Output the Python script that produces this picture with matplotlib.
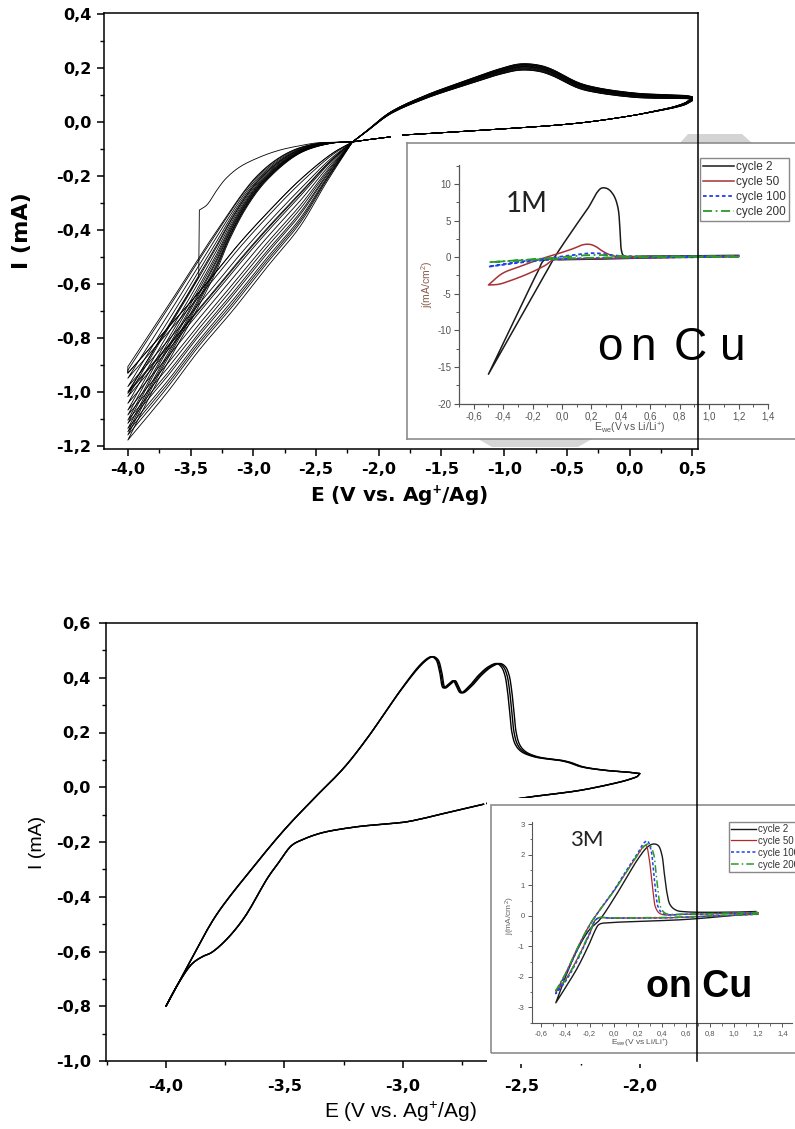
import numpy as np
import matplotlib
matplotlib.use("Agg")
import matplotlib.pyplot as plt
from matplotlib.patches import Rectangle, Polygon
from matplotlib.lines import Line2D
from matplotlib.ticker import MultipleLocator

plt.rcParams['font.family'] = ['Liberation Sans', 'DejaVu Sans']
plt.rcParams['mathtext.fontset'] = 'custom'
plt.rcParams['mathtext.rm'] = 'Liberation Sans'
plt.rcParams['mathtext.bf'] = 'Liberation Sans:bold'
plt.rcParams['mathtext.it'] = 'Liberation Sans:italic'

# ======================= DATA =======================
# ---- upper panel: 1 M electrolyte, ~15 CV cycles (I in mA, E in V vs Ag+/Ag)
top_lower_E = [0.50, 0.45, 0.36, 0.20, 0.045, -0.41, -1.17, -1.81]
top_lower_I = [0.085, 0.070, 0.056, 0.040, 0.026, -0.004, -0.030, -0.048]
top_lower_spread = [0.5, 0.35, 0.2, 0.1, 0.0, 0.0, 0.0, 0.0]
top_start_E = [-1.91, -2.05, -2.21]
top_start_I = [-0.055, -0.063, -0.074]
cath_upper_E = [-2.21, -2.50, -2.73, -2.97, -3.27, -3.59, -4.00]
cath_upper_I = [-0.074, -0.080, -0.115, -0.200, -0.390, -0.620, -0.910]
cath_lower_E = [-2.21, -2.37, -2.63, -2.89, -3.05, -3.19, -3.29, -3.50, -3.75, -4.00]
cath_lower_I = [-0.074, -0.078, -0.116, -0.215, -0.314, -0.437, -0.548, -0.740, -0.950, -1.180]
anod_upper_E = [-4.00, -3.60, -3.35, -3.11, -2.89, -2.63, -2.37, -2.21]
anod_upper_I = [-0.930, -0.720, -0.585, -0.449, -0.337, -0.215, -0.116, -0.074]
anod_lower_E = [-4.00, -3.69, -3.43, -3.16, -2.89, -2.63, -2.42, -2.21]
anod_lower_I = [-1.178, -1.004, -0.844, -0.696, -0.537, -0.389, -0.226, -0.074]
ox_E = [-2.21, -2.10, -1.91, -1.63, -1.32, -1.02, -0.87, -0.72, -0.62, -0.41, -0.26, 0.045, 0.30, 0.45, 0.50]
ox_I = [-0.074, -0.035, 0.033, 0.093, 0.144, 0.190, 0.205, 0.200, 0.185, 0.137, 0.119, 0.100, 0.095, 0.093, 0.090]
ox_spread = [0.0, 0.1, 0.3, 0.5, 0.7, 0.9, 1.0, 1.0, 1.0, 0.9, 0.8, 0.7, 0.6, 0.5, 0.4]
cycle_end_I = [-0.906, -0.919, -0.949, -0.980, -1.005, -1.017, -1.042, -1.067,
               -1.085, -1.104, -1.116, -1.135, -1.147, -1.159, -1.178]
cycle_ox_shift = [0.010, -0.012, 0.006, -0.004, 0.008, -0.008, 0.002, -0.013,
                  0.004, -0.002, 0.011, -0.006, 0.000, -0.010, 0.007]
first_pre_E = [-1.91, -2.05, -2.21, -2.47, -2.60, -2.79, -2.95, -3.11, -3.22, -3.29, -3.37, -3.43]
first_pre_I = [-0.055, -0.063, -0.074, -0.076, -0.085, -0.104, -0.130, -0.167, -0.210, -0.252, -0.307, -0.326]
first_post_E = [-3.435, -3.60, -3.80, -4.00]
first_post_I = [-0.574, -0.700, -0.850, -1.000]
top_xticks = [-4.0, -3.5, -3.0, -2.5, -2.0, -1.5, -1.0, -0.5, 0.0, 0.5]
top_yticks = [-1.2, -1.0, -0.8, -0.6, -0.4, -0.2, 0.0, 0.2, 0.4]

# ---- lower panel: 3 M electrolyte, 3 CV cycles
bot_cath_E = [-2.66, -2.80, -2.91, -2.99, -3.10, -3.20, -3.34, -3.42, -3.47, -3.52, -3.57,
              -3.67, -3.75, -3.81, -3.84, -3.89, -3.95, -4.00]
bot_cath_I = [-0.062, -0.090, -0.113, -0.127, -0.136, -0.145, -0.166, -0.190, -0.213, -0.270, -0.330,
              -0.477, -0.561, -0.605, -0.616, -0.645, -0.720, -0.800]
bot_anod_E = [-4.00, -3.90, -3.79, -3.63, -3.50, -3.38, -3.25, -3.15, -3.01, -2.93, -2.895, -2.879,
              -2.86, -2.845, -2.83, -2.81, -2.788, -2.775, -2.757, -2.72, -2.68, -2.64, -2.605,
              -2.585, -2.57, -2.56, -2.55, -2.54, -2.525, -2.50, -2.45, -2.38, -2.34, -2.30,
              -2.25, -2.15, -2.05, -2.00]
bot_anod_I = [-0.800, -0.640, -0.470, -0.290, -0.155, -0.045, 0.070, 0.180, 0.355, 0.445, 0.472, 0.477,
              0.465, 0.420, 0.363, 0.375, 0.389, 0.370, 0.345, 0.370, 0.410, 0.440, 0.452,
              0.440, 0.410, 0.360, 0.280, 0.200, 0.155, 0.130, 0.112, 0.102, 0.098, 0.090,
              0.075, 0.062, 0.055, 0.050]
bot_anod_w = [0, 0, 0, 0, 0, 0, 0, 0, 0.1, 0.3, 0.4, 0.5,
              0.5, 0.5, 0.5, 0.5, 0.5, 0.5, 0.5, 0.6, 0.7, 0.8, 0.9,
              1, 1, 1, 1, 1, 1, 1, 0.9, 0.8, 0.7, 0.6,
              0.5, 0.3, 0.1, 0]
bot_rev_E = [-2.00, -2.01, -2.04, -2.08, -2.25, -2.46, -2.645]
bot_rev_I = [0.050, 0.040, 0.030, 0.020, -0.011, -0.035, -0.059]
bot_cycle_shift = [0.0, 0.009, 0.018]
bot_xticks = [-4.0, -3.5, -3.0, -2.5, -2.0]
bot_yticks = [-1.0, -0.8, -0.6, -0.4, -0.2, 0.0, 0.2, 0.4, 0.6]

# ---- inset 1 (1M, j in mA/cm2 vs E in V vs Li/Li+)
in_labels = ['cycle 2', 'cycle 50', 'cycle 100', 'cycle 200']
in1_c2_E = [1.20, 0.80, 0.40, 0.00, -0.12, -0.16, -0.30, -0.50, -0.30, -0.10, -0.05, 0.10, 0.18,
            0.24, 0.27, 0.31, 0.35, 0.38, 0.395, 0.405, 0.42, 0.60, 1.20]
in1_c2_j = [0.15, 0.00, -0.20, -0.35, -0.40, -1.80, -7.60, -16.0, -8.9, -1.8, 0.0, 4.5, 6.8,
            8.9, 9.45, 9.35, 8.5, 6.8, 3.5, 0.8, 0.2, 0.15, 0.25]
in1_c50_E = [1.20, 0.50, 0.00, -0.063, -0.11, -0.223, -0.35, -0.43, -0.50, -0.406, -0.29, -0.13,
             -0.017, 0.08, 0.143, 0.19, 0.23, 0.28, 0.35, 0.45, 1.20]
in1_c50_j = [0.05, -0.10, -0.30, -0.40, -1.07, -2.20, -3.20, -3.70, -3.80, -2.23, -1.30, -0.15,
             0.54, 1.20, 1.70, 1.75, 1.45, 0.77, 0.17, 0.10, 0.15]
in1_c100_E = [1.20, 0.30, 0.00, -0.20, -0.35, -0.50, -0.30, -0.10, 0.00, 0.10, 0.20, 0.26, 0.35, 0.45, 1.20]
in1_c100_j = [0.05, -0.10, -0.25, -0.55, -0.90, -1.30, -0.65, -0.20, 0.10, 0.35, 0.55, 0.50, 0.25, 0.12, 0.15]
in1_c200_E = [1.20, 0.30, 0.00, -0.25, -0.50, -0.25, 0.00, 0.15, 0.25, 0.35, 0.50, 1.20]
in1_c200_j = [0.05, -0.05, -0.20, -0.40, -0.70, -0.35, 0.00, 0.25, 0.30, 0.20, 0.12, 0.15]

# ---- inset 2 (3M)
in2_c2_E = [1.18, 0.60, 0.00, -0.12, -0.15, -0.20, -0.30, -0.40, -0.48, -0.40, -0.30, -0.20, -0.12,
            0.00, 0.10, 0.20, 0.28, 0.33, 0.37, 0.40, 0.42, 0.44, 0.47, 0.52, 0.60, 1.00, 1.18]
in2_c2_j = [0.08, -0.12, -0.22, -0.28, -0.45, -0.90, -1.70, -2.35, -2.85, -2.00, -1.10, -0.45, -0.15,
            0.55, 1.20, 1.85, 2.25, 2.35, 2.30, 2.00, 1.40, 0.80, 0.35, 0.18, 0.13, 0.12, 0.14]
in2_c50_E = [1.20, 0.50, 0.00, -0.14, -0.20, -0.30, -0.40, -0.48, -0.40, -0.30, -0.20, -0.14,
             0.00, 0.10, 0.20, 0.25, 0.27, 0.29, 0.31, 0.33, 0.35, 0.39, 0.60, 1.20]
in2_c50_j = [0.05, -0.06, -0.08, -0.10, -0.60, -1.40, -2.10, -2.50, -1.90, -1.05, -0.30, 0.05,
             0.80, 1.40, 2.00, 2.28, 2.30, 2.00, 1.40, 0.70, 0.25, 0.06, 0.05, 0.10]
in2_c100_E = [1.20, 0.50, 0.00, -0.14, -0.20, -0.30, -0.40, -0.48, -0.40, -0.30, -0.20, -0.14,
              0.00, 0.10, 0.20, 0.25, 0.28, 0.31, 0.33, 0.35, 0.37, 0.41, 0.60, 1.20]
in2_c100_j = [0.05, -0.06, -0.08, -0.10, -0.60, -1.45, -2.15, -2.55, -1.95, -1.10, -0.32, 0.05,
              0.82, 1.45, 2.05, 2.38, 2.45, 2.15, 1.50, 0.75, 0.28, 0.07, 0.05, 0.10]
in2_c200_E = [1.20, 0.50, 0.00, -0.14, -0.20, -0.30, -0.40, -0.48, -0.40, -0.30, -0.20, -0.14,
              0.00, 0.10, 0.20, 0.26, 0.29, 0.33, 0.35, 0.37, 0.39, 0.43, 0.60, 1.20]
in2_c200_j = [0.06, -0.05, -0.07, -0.09, -0.55, -1.40, -2.10, -2.45, -1.90, -1.05, -0.30, 0.06,
              0.80, 1.40, 2.00, 2.30, 2.35, 2.05, 1.45, 0.75, 0.28, 0.08, 0.06, 0.11]
in_xticks = [-0.6, -0.4, -0.2, 0.0, 0.2, 0.4, 0.6, 0.8, 1.0, 1.2, 1.4]
in1_yticks = [-20, -15, -10, -5, 0, 5, 10]
in2_yticks = [-3, -2, -1, 0, 1, 2, 3]


# ======================= helpers =======================
def cr(x, y, sx=1.0, sy=1.0, n=10):
    """Centripetal Catmull-Rom curve through the given points (drawing only)."""
    P = np.column_stack([np.asarray(x, float) * sx, np.asarray(y, float) * sy])
    if len(P) < 3:
        return P[:, 0] / sx, P[:, 1] / sy
    P = np.vstack([2 * P[0] - P[1], P, 2 * P[-1] - P[-2]])
    out = []
    for i in range(1, len(P) - 2):
        p0, p1, p2, p3 = P[i - 1], P[i], P[i + 1], P[i + 2]
        t0 = 0.0
        t1 = t0 + max(np.linalg.norm(p1 - p0), 1e-6) ** 0.5
        t2 = t1 + max(np.linalg.norm(p2 - p1), 1e-6) ** 0.5
        t3 = t2 + max(np.linalg.norm(p3 - p2), 1e-6) ** 0.5
        t = np.linspace(t1, t2, n, endpoint=False)[:, None]
        A1 = (t1 - t) / (t1 - t0) * p0 + (t - t0) / (t1 - t0) * p1
        A2 = (t2 - t) / (t2 - t1) * p1 + (t - t1) / (t2 - t1) * p2
        A3 = (t3 - t) / (t3 - t2) * p2 + (t - t2) / (t3 - t2) * p3
        B1 = (t2 - t) / (t2 - t0) * A1 + (t - t0) / (t2 - t0) * A2
        B2 = (t3 - t) / (t3 - t1) * A2 + (t - t1) / (t3 - t1) * A3
        out.append((t2 - t) / (t2 - t1) * B1 + (t - t1) / (t2 - t1) * B2)
    out.append(P[-2:-1])
    R = np.vstack(out)
    return R[:, 0] / sx, R[:, 1] / sy


def cr_loop(x, y, sx, sy):
    """Smooth a CV loop, keeping the sharp vertex at the most negative potential."""
    x = list(x); y = list(y)
    k = int(np.argmin(x))
    a = cr(x[:k + 1], y[:k + 1], sx, sy)
    b = cr(x[k:], y[k:], sx, sy)
    return np.concatenate([a[0], b[0]]), np.concatenate([a[1], b[1]])


def comma(v, nd=1):
    s = f"{v:.{nd}f}".replace('.', ',')
    if s.startswith('-') and float(v) == 0:
        s = s[1:]
    return s


W, H = 795, 1129
fig = plt.figure(figsize=(W / 100, H / 100), dpi=100)


def rect(l, t, r, b):
    return [l / W, 1 - b / H, (r - l) / W, (b - t) / H]


def fxy(px, py):
    return (px / W, 1 - py / H)


# ---------------- upper main axes ----------------
SX1, SY1 = 125.6, 270.0
ax1 = fig.add_axes(rect(104, 13, 698, 449), zorder=0)
ax1.set_xlim(-4.19, 0.545)
ax1.set_ylim(-1.211, 0.404)

grid_c = np.linspace(-2.21, -4.0, 160)
grid_a = grid_c[::-1]


def env(E, I):
    xe, ye = cr(E, I, SX1, SY1)
    o = np.argsort(xe)
    return np.interp(grid_c, xe[o], ye[o])


cu, cl = env(cath_upper_E, cath_upper_I), env(cath_lower_E, cath_lower_I)
au, al = env(anod_upper_E, anod_upper_I)[::-1], env(anod_lower_E, anod_lower_I)[::-1]
sE, sI = cr(top_start_E, top_start_I, SX1, SY1)

for e_end, sh in zip(cycle_end_I, cycle_ox_shift):
    t = (e_end - cath_upper_I[-1]) / (cath_lower_I[-1] - cath_upper_I[-1])
    u = np.clip((e_end - anod_upper_I[0]) / (anod_lower_I[0] - anod_upper_I[0]), 0, 1)
    Ic = (1 - t) * cu + t * cl
    Ia = (1 - u) * au + u * al
    oE, oI = cr(ox_E, np.array(ox_I) + sh * np.array(ox_spread), SX1, SY1)
    lE, lI = cr(top_lower_E, np.array(top_lower_I) + sh * np.array(top_lower_spread), SX1, SY1)
    E = np.concatenate([sE, grid_c[1:], grid_a, oE[1:], lE])
    I = np.concatenate([sI, Ic[1:], Ia, oI[1:], lI])
    ax1.plot(E, I, color='black', lw=0.6)

# first (nucleation) cycle
u1 = (first_post_I[-1] - anod_upper_I[0]) / (anod_lower_I[0] - anod_upper_I[0])
Ia1 = (1 - u1) * au + u1 * al
pE, pI = cr(first_pre_E, first_pre_I, SX1, SY1)
qE, qI = cr(first_post_E, first_post_I, SX1, SY1)
oE, oI = cr(ox_E, ox_I, SX1, SY1)
lE, lI = cr(top_lower_E, top_lower_I, SX1, SY1)
ax1.plot(np.concatenate([pE, qE, grid_a, oE[1:], lE]),
         np.concatenate([pI, qI, Ia1, oI[1:], lI]), color='black', lw=0.6)

ax1.set_xticks(top_xticks, [comma(v) for v in top_xticks],
               fontfamily='DejaVu Sans', fontweight='bold', fontsize=11.5)
ax1.set_yticks(top_yticks, [comma(v) for v in top_yticks],
               fontfamily='DejaVu Sans', fontweight='bold', fontsize=11.5)
ax1.xaxis.set_minor_locator(MultipleLocator(0.25))
ax1.yaxis.set_minor_locator(MultipleLocator(0.1))
ax1.tick_params(which='major', direction='out', length=5, width=1.1, pad=4)
ax1.tick_params(which='minor', direction='out', length=3, width=1.0)
for s in ax1.spines.values():
    s.set_linewidth(1.1)
ax1.spines['right'].set_visible(False)

fig.text(*fxy(22, 231), 'I (mA)', rotation=90, ha='center', va='center',
         fontfamily='DejaVu Sans', fontweight='bold', fontsize=16)
fig.text(*fxy(399, 496), r'E (V vs. Ag$^{\mathbf{+}}$/Ag)', ha='center', va='center',
         fontfamily='DejaVu Sans', fontweight='bold', fontsize=14.5)

# ---------------- lower main axes ----------------
SX2, SY2 = 237.0, 273.0
ax2 = fig.add_axes(rect(106, 623, 697, 1061), zorder=0)
ax2.set_xlim(-4.253, -1.759)
ax2.set_ylim(-1.0, 0.6)
bw = np.array(bot_anod_w)
cE, cI = cr(bot_cath_E, bot_cath_I, SX2, SY2)
rE, rI = cr(bot_rev_E, bot_rev_I, SX2, SY2)
for sh in bot_cycle_shift:
    aE, aI = cr(np.array(bot_anod_E) + sh * bw, bot_anod_I, SX2, SY2)
    ax2.plot(np.concatenate([cE, aE, rE]), np.concatenate([cI, aI, rI]), color='black', lw=1.0)

ax2.set_xticks(bot_xticks, [comma(v) for v in bot_xticks],
               fontfamily='DejaVu Sans', fontweight='bold', fontsize=11.5)
ax2.set_yticks(bot_yticks, [comma(v) for v in bot_yticks],
               fontfamily='DejaVu Sans', fontweight='bold', fontsize=11.5)
ax2.xaxis.set_minor_locator(MultipleLocator(0.25))
ax2.yaxis.set_minor_locator(MultipleLocator(0.1))
ax2.tick_params(which='major', direction='out', length=5, width=1.1)
ax2.tick_params(axis='y', which='major', pad=6)
ax2.tick_params(axis='x', which='major', pad=8)
ax2.tick_params(which='minor', direction='out', length=3, width=1.0)
for s in ax2.spines.values():
    s.set_linewidth(1.1)
ax2.spines['right'].set_visible(False)

fig.text(*fxy(37, 842), 'I (mA)', rotation=90, ha='center', va='center', fontsize=14)
fig.text(*fxy(400, 1112), r'E (V vs. Ag$^{\mathrm{+}}$/Ag)', ha='center', va='center', fontsize=15)

# ---------------- inset 1 ----------------
SX3, SY3 = 147.0, 7.3
box1 = fig.add_axes(rect(407, 143, 810, 439), zorder=1)
box1.set_xticks([]); box1.set_yticks([])
for s in box1.spines.values():
    s.set_color('#8c8c8c'); s.set_linewidth(1.2)

in1 = fig.add_axes(rect(459, 165, 768, 403.5), zorder=2)
in1.patch.set_alpha(0)
in1.set_xlim(-0.7, 1.4)
in1.set_ylim(-20, 12.6)
in1.plot(*cr_loop(in1_c2_E, in1_c2_j, SX3, SY3), color='#1a1a1a', lw=1.1, label=in_labels[0])
in1.plot(*cr_loop(in1_c50_E, in1_c50_j, SX3, SY3), color='#a83232', lw=1.1, label=in_labels[1])
in1.plot(*cr_loop(in1_c100_E, in1_c100_j, SX3, SY3), color='#2040ee', lw=1.3, ls=(0, (2, 1.5)),
         label=in_labels[2])
in1.plot(*cr_loop(in1_c200_E, in1_c200_j, SX3, SY3), color='#2a9a2a', lw=1.3, ls=(0, (5, 2, 1, 2)),
         label=in_labels[3])
in1.set_xticks(in_xticks, [comma(v) for v in in_xticks], fontsize=7, color='#555555')
in1.set_yticks(in1_yticks, [str(v) for v in in1_yticks], fontsize=7, color='#555555')
in1.xaxis.set_minor_locator(MultipleLocator(0.1))
in1.yaxis.set_minor_locator(MultipleLocator(2.5))
in1.tick_params(which='major', direction='out', length=3.5, width=0.8, color='#555555', pad=2)
in1.tick_params(which='minor', direction='out', length=2, width=0.7, color='#555555')
for side in ['top', 'right']:
    in1.spines[side].set_visible(False)
for side in ['left', 'bottom']:
    in1.spines[side].set_color('#555555'); in1.spines[side].set_linewidth(0.9)
in1.text(*fxy(427, 284), r'j(mA/cm$^{\mathrm{2}}$)', transform=fig.transFigure, rotation=90,
         ha='center', va='center', fontsize=7.5, color='#8a5a4a')
in1.text(*fxy(630, 428), r'E$_{\mathrm{we}}$(V vs Li/Li$^{\mathrm{+}}$)', transform=fig.transFigure,
         ha='center', va='center', fontsize=7.5, color='#555555')
in1.text(*fxy(527, 204), '1M', transform=fig.transFigure, ha='center', va='center',
         fontsize=20, fontfamily='Lato', color='#222222')
for ch, cx in zip(['o', 'n', 'C', 'u'], [610, 643, 690, 733]):
    in1.text(*fxy(cx, 360), ch, transform=fig.transFigure, ha='center', va='baseline',
             fontsize=33, color='black')
in1.legend(loc='upper left', bbox_to_anchor=fxy(700, 158), bbox_transform=fig.transFigure,
           fontsize=8.5, frameon=True, fancybox=False, edgecolor='#888888', framealpha=1,
           handlelength=2.6, handletextpad=0.2, labelspacing=0.25, borderpad=0.25,
           borderaxespad=0, labelcolor='#333333')

# gray shadows of the pasted picture
fig.add_artist(Polygon([fxy(680, 143), fxy(688, 134), fxy(742, 134), fxy(752, 143)],
                       closed=True, facecolor='#d4d4d4', edgecolor='none', zorder=0.5))
fig.add_artist(Polygon([fxy(478, 439), fxy(592, 439), fxy(578, 447), fxy(492, 447)],
                       closed=True, facecolor='#d6d6d6', edgecolor='none', zorder=0.5))

# ---------------- inset 2 ----------------
SX4, SY4 = 120.5, 30.5
box2 = fig.add_axes(rect(487, 798, 810, 1063.5), zorder=1)
box2.set_axis_off()
box2.add_patch(Rectangle((0, 0), 1, 1, transform=box2.transAxes, facecolor='white', edgecolor='none'))
fig.add_artist(Rectangle(fxy(491, 1053), (810 - 491) / W, (1053 - 805) / H, facecolor='none',
                         edgecolor='#8c8c8c', lw=1.2, zorder=1.5))

in2 = fig.add_axes(rect(531.7, 821.7, 792, 1023.3), zorder=2)
in2.patch.set_alpha(0)
in2.set_xlim(-0.68, 1.48)
in2.set_ylim(-3.52, 3.08)
in2.plot(*cr_loop(in2_c2_E, in2_c2_j, SX4, SY4), color='#1a1a1a', lw=1.0, label=in_labels[0])
in2.plot(*cr_loop(in2_c50_E, in2_c50_j, SX4, SY4), color='#b02828', lw=0.9, label=in_labels[1])
in2.plot(*cr_loop(in2_c100_E, in2_c100_j, SX4, SY4), color='#2040ee', lw=1.1, ls=(0, (2, 1.5)),
         label=in_labels[2])
in2.plot(*cr_loop(in2_c200_E, in2_c200_j, SX4, SY4), color='#2a9a2a', lw=1.1, ls=(0, (5, 2, 1, 2)),
         label=in_labels[3])
in2.set_xticks(in_xticks, [comma(v) for v in in_xticks], fontsize=5.5, color='#555555')
in2.set_yticks(in2_yticks, [str(v) for v in in2_yticks], fontsize=5.5, color='#555555')
in2.xaxis.set_minor_locator(MultipleLocator(0.1))
in2.yaxis.set_minor_locator(MultipleLocator(0.5))
in2.tick_params(which='major', direction='out', length=3, width=0.7, color='#555555', pad=2)
in2.tick_params(which='minor', direction='out', length=1.8, width=0.6, color='#555555')
for side in ['top', 'right']:
    in2.spines[side].set_visible(False)
for side in ['left', 'bottom']:
    in2.spines[side].set_color('#555555'); in2.spines[side].set_linewidth(0.8)
in2.text(*fxy(510, 916), r'j(mA/cm$^{\mathrm{2}}$)', transform=fig.transFigure, rotation=90,
         ha='center', va='center', fontsize=6, color='#666666')
in2.text(*fxy(640, 1043), r'E$_{\mathrm{we}}$(V vs Li/Li$^{\mathrm{+}}$)', transform=fig.transFigure,
         ha='center', va='center', fontsize=6, color='#555555')
in2.text(*fxy(587, 840), '3M', transform=fig.transFigure, ha='center', va='center',
         fontsize=16, fontfamily='Lato', color='#222222')
in2.text(*fxy(699, 997), 'on Cu', transform=fig.transFigure, ha='center', va='baseline',
         fontsize=27, fontweight='bold', color='black')
in2.legend(loc='upper left', bbox_to_anchor=fxy(729, 822), bbox_transform=fig.transFigure,
           fontsize=7, frameon=True, fancybox=False, edgecolor='#888888', framealpha=1,
           handlelength=2.6, handletextpad=0.2, labelspacing=0.2, borderpad=0.2,
           borderaxespad=0, labelcolor='#333333')

# right frame lines of the main plots, drawn over the pasted insets
fig.add_artist(Line2D([698 / W, 698 / W], [1 - 13 / H, 1 - 449 / H], color='black', lw=1.1, zorder=10))
fig.add_artist(Line2D([697 / W, 697 / W], [1 - 623 / H, 1 - 1061 / H], color='black', lw=1.1, zorder=10))

fig.savefig('out.png', dpi=100)
